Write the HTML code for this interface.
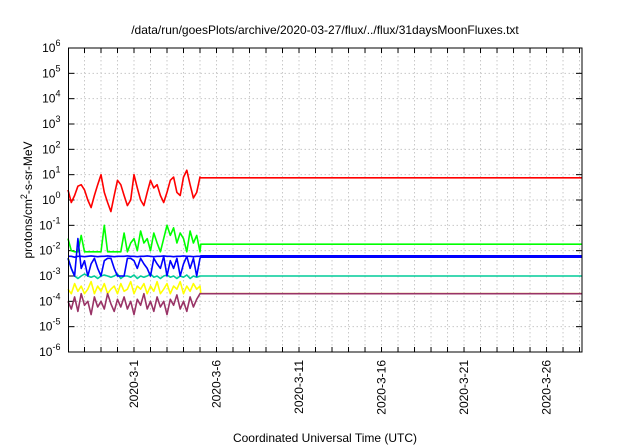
<!DOCTYPE html>
<html><head><meta charset="utf-8"><style>
html,body{margin:0;padding:0;background:#fff;}
svg{display:block;font-family:"Liberation Sans",sans-serif;}
</style></head><body>
<svg id="chart" width="640" height="448"></svg>
<script>
const titleText = "/data/run/goesPlots/archive/2020-03-27/flux/../flux/31daysMoonFluxes.txt";
const xTickLabels = ["2020-3-1","2020-3-6","2020-3-11","2020-3-16","2020-3-21","2020-3-26"];
const xTickDays = [4,9,14,19,24,29];
const yTickExps = [-6,-5,-4,-3,-2,-1,0,1,2,3,4,5,6];
const tNoisy = [0,0.2,0.4,0.6,0.8,1,1.2,1.4,1.6,1.8,2,2.2,2.4,2.6,2.8,3,3.2,3.4,3.6,3.8,4,4.2,4.4,4.6,4.8,5,5.2,5.4,5.6,5.8,6,6.2,6.4,6.6,6.8,7,7.2,7.4,7.6,7.8,8];
const tEnd = 31.2;
const redVals = [2.5,0.8,1.5,3.5,4,2.5,1.0,0.5,1.5,4,10,2,0.8,0.35,1.5,6,4,1.5,0.6,1,10,3,1,0.6,2,6,3,4,1.5,0.8,2,6,8,2,1.5,8,15,4,1.2,2,8];
const redFlat = 7.5;
const greenVals = [0.03,0.01,0.009,0.009,0.04,0.009,0.009,0.009,0.009,0.009,0.009,0.1,0.009,0.009,0.009,0.009,0.009,0.05,0.009,0.02,0.03,0.01,0.06,0.02,0.03,0.01,0.05,0.02,0.009,0.03,0.1,0.04,0.08,0.02,0.05,0.03,0.009,0.06,0.02,0.04,0.009];
const greenFlat = 0.018;
const blueVals = [0.005,0.002,0.001,0.03,0.002,0.004,0.001,0.003,0.005,0.002,0.001,0.004,0.005,0.005,0.002,0.001,0.001,0.001,0.005,0.005,0.004,0.002,0.005,0.003,0.002,0.001,0.005,0.003,0.002,0.006,0.001,0.004,0.002,0.005,0.001,0.003,0.006,0.002,0.005,0.001,0.005];
const blueFlat = 0.0055;
const blue2Vals = [0.006,0.006,0.0055,0.006,0.006,0.0058,0.006,0.0062,0.006,0.0058,0.006,0.006,0.0062,0.006,0.0058,0.006,0.006,0.006,0.0062,0.006,0.006,0.0058,0.006,0.006,0.0062,0.006,0.0058,0.006,0.006,0.0062,0.006,0.006,0.0058,0.006,0.006,0.0062,0.006,0.006,0.0058,0.006,0.006];
const blue2Flat = 0.0063;
const tealVals = [0.005,0.002,0.001,0.0008,0.001,0.0012,0.001,0.0009,0.001,0.0008,0.001,0.0011,0.001,0.0009,0.001,0.0012,0.0008,0.001,0.001,0.0009,0.0011,0.0008,0.001,0.0009,0.001,0.0012,0.0009,0.001,0.0008,0.001,0.0011,0.0009,0.001,0.0008,0.001,0.0009,0.0011,0.0008,0.001,0.0009,0.001];
const tealFlat = 0.001;
const yellowVals = [0.0003,0.0002,0.0005,0.00025,0.0004,0.0002,0.0003,0.0006,0.0002,0.0004,0.00025,0.0005,0.0002,0.0003,0.0004,0.0002,0.0005,0.00025,0.0003,0.0006,0.0002,0.0004,0.0003,0.0005,0.0002,0.0004,0.00025,0.0006,0.0002,0.0003,0.0005,0.0002,0.0004,0.0003,0.0006,0.0002,0.0004,0.00025,0.0005,0.0003,0.0004];
const yellowFlat = 0.0002;
const maroonVals = [0.0001,0.00005,0.00015,0.00004,0.0002,0.00007,0.0001,0.00003,0.00015,0.00006,0.0001,0.00005,0.0002,0.00008,0.00004,0.00012,0.00006,0.00015,0.00005,0.0001,0.00003,0.00012,0.00007,0.0002,0.00005,0.0001,0.00004,0.00015,0.00006,0.0001,0.00003,0.00012,0.00007,0.00018,0.00005,0.0001,0.00004,0.00015,0.00006,0.00012,0.0002];
const maroonFlat = 0.0002;

const L=68.5,R=582,T=48,B=352,X0=0.03,X1=31.15;
const xs=d=>L+(d-X0)/(X1-X0)*(R-L);
const ys=v=>B-(Math.log10(v)+6)/12*(B-T);
const svg=document.getElementById('chart');
const NS="http://www.w3.org/2000/svg";
function mk(tag,attrs,parent){const e=document.createElementNS(NS,tag);for(const k in attrs)e.setAttribute(k,attrs[k]);(parent||svg).appendChild(e);return e;}

for(let d=1;d<=31;d++){const x=xs(d);if(x<=L+1||x>=R-1)continue;
 const g=mk('line',{x1:x,x2:x,y1:T,y2:B,stroke:'#c8c8c8','stroke-dasharray':'1.5,2.5','stroke-width':1});
 
 
 const tk=mk('line',{x1:x,x2:x,y1:B,y2:B-5,stroke:'#000','stroke-width':1});
 
 
 const tk2=mk('line',{x1:x,x2:x,y1:T,y2:T+5,stroke:'#000','stroke-width':1});
 
 
}
yTickExps.forEach(e=>{const y=ys(Math.pow(10,e));
 if(e>-6&&e<6){const g=mk('line',{x1:L,x2:R,y1:y,y2:y,stroke:'#c8c8c8','stroke-dasharray':'1.5,2.5','stroke-width':1});
 
 }
 const tk=mk('line',{x1:L,x2:L+6,y1:y,y2:y,stroke:'#000'});
 
 
 const tk2=mk('line',{x1:R,x2:R-6,y1:y,y2:y,stroke:'#000'});
 
 
 const t=mk('text',{x:L-8,y:y+4,'text-anchor':'end','font-size':12,fill:'#000'});
 
 
 t.textContent='10';
 const s=mk('tspan',{dy:-6,'font-size':9},t);s.textContent=String(e);
});
xTickDays.forEach((d,i)=>{const x=xs(d);
 const t=mk('text',{x:0,y:0,'text-anchor':'end','font-size':12,transform:`translate(${x+4},360) rotate(-90)`});
 
 
 t.textContent=xTickLabels[i];
});

const series=[
 ['series-yellow',yellowVals,yellowFlat,'#ffff00'],
 ['series-maroon',maroonVals,maroonFlat,'#993366'],
 ['series-teal',tealVals,tealFlat,'#00cc99'],
 ['series-green',greenVals,greenFlat,'#00ff00'],
 ['series-blue-2',blue2Vals,blue2Flat,'#0000ff'],
 ['series-blue',blueVals,blueFlat,'#0000ff'],
 ['series-red',redVals,redFlat,'#ff0000']];
series.forEach(([name,vals,flat,col])=>{
 let p=vals.map((v,i)=>`${xs(tNoisy[i]).toFixed(1)},${ys(v).toFixed(1)}`);
 p.push(`${xs(tNoisy[tNoisy.length-1]+0.05).toFixed(1)},${ys(flat).toFixed(1)}`);
 p.push(`${xs(tEnd).toFixed(1)},${ys(flat).toFixed(1)}`);
 const pl=mk('polyline',{points:p.join(' '),fill:'none',stroke:col,'stroke-width':1.6,'stroke-linejoin':'round'});
 
 
});
const frame=mk('rect',{x:L,y:T,width:R-L,height:B-T,fill:'none',stroke:'#000','stroke-width':1});


const cover=mk('rect',{x:R+0.5,y:0,width:60,height:448,fill:'#fff'});


const title=mk('text',{x:325,y:34,'text-anchor':'middle','font-size':12});


title.textContent=titleText;
const xt=mk('text',{x:325,y:442,'text-anchor':'middle','font-size':12});


xt.textContent='Coordinated Universal Time (UTC)';
const yt=mk('text',{x:0,y:0,'text-anchor':'middle','font-size':12,transform:'translate(32,200) rotate(-90)'});


yt.textContent='protons/cm';
const sup=mk('tspan',{dy:-5,'font-size':9},yt);sup.textContent='2';
const rest=mk('tspan',{dy:5},yt);rest.textContent='-s-sr-MeV';
</script>
</body></html>
